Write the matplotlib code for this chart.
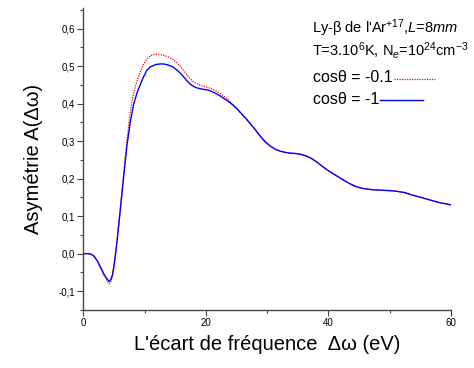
import matplotlib
matplotlib.use("Agg")
import matplotlib.pyplot as plt
from matplotlib.ticker import MultipleLocator, FuncFormatter

plt.rcParams['font.family'] = ['Liberation Sans', 'DejaVu Sans']
plt.rcParams['mathtext.fontset'] = 'custom'
plt.rcParams['mathtext.rm'] = 'Liberation Sans'
plt.rcParams['mathtext.it'] = 'Liberation Sans:italic'

# frequency offset (eV)
x = [0, 0.6, 1.2, 1.75, 2.3, 2.85, 3.39, 3.93, 4.2, 4.48, 4.75, 5.02, 5.3,
     5.57, 6.0, 6.55, 7.1, 7.64, 8.18, 8.73, 9.28, 9.82, 10.4, 10.9, 11.46,
     12.0, 12.55, 13.1, 13.65, 14.2, 14.7, 15.25, 15.8, 16.35, 16.9, 17.45,
     18.0, 18.55, 19.1, 19.65, 20.2, 20.75, 21.3, 21.85, 22.4, 22.95, 23.5,
     24.0, 24.5, 25.1, 25.6, 26.45, 27.3, 28.1, 28.9, 29.7, 30.6, 31.4, 32.2,
     33.0, 33.8, 34.7, 35.5, 36.3, 37.1, 37.9, 38.7, 39.5, 40.4, 41.2, 42.0,
     42.8, 43.6, 44.5, 45.3, 46.4, 47.5, 48.8, 50.2, 51.3, 52.4, 53.2, 54.0,
     55.1, 56.2, 57.3, 58.4, 59.2, 60.0]

# tail shared by both curves (x >= 26.45)
tail = [0.362, 0.346, 0.330, 0.313, 0.298, 0.286, 0.278, 0.273, 0.270, 0.268,
        0.267, 0.265, 0.261, 0.255, 0.247, 0.237, 0.227, 0.217, 0.209, 0.201,
        0.193, 0.186, 0.179, 0.175, 0.172, 0.170, 0.169, 0.168, 0.166, 0.163,
        0.159, 0.155, 0.150, 0.145, 0.140, 0.135, 0.133, 0.130]

# cos(theta) = -1
asym_m1 = [0, 0, -0.001, -0.007, -0.020, -0.038, -0.056, -0.069, -0.074,
           -0.069, -0.056, -0.029, 0.006, 0.046, 0.113, 0.202, 0.287, 0.350,
           0.397, 0.428, 0.451, 0.472, 0.490, 0.498, 0.502, 0.505, 0.506,
           0.506, 0.504, 0.501, 0.497, 0.490, 0.482, 0.472, 0.461, 0.452,
           0.446, 0.442, 0.440, 0.438, 0.437, 0.434, 0.430, 0.425, 0.420,
           0.414, 0.408, 0.402, 0.395, 0.386, 0.377] + tail

# cos(theta) = -0.1
asym_m01 = [0, 0, -0.001, -0.007, -0.021, -0.040, -0.059, -0.074, -0.080,
            -0.075, -0.060, -0.031, 0.005, 0.047, 0.117, 0.210, 0.300, 0.378,
            0.428, 0.460, 0.485, 0.505, 0.520, 0.527, 0.531, 0.532, 0.531,
            0.529, 0.526, 0.522, 0.517, 0.509, 0.500, 0.489, 0.477, 0.466,
            0.458, 0.453, 0.449, 0.446, 0.444, 0.441, 0.437, 0.432, 0.426,
            0.420, 0.413, 0.405, 0.397, 0.387, 0.377] + tail

fig = plt.figure(figsize=(4.74, 3.68), dpi=100)
ax = fig.add_axes([0.176, 0.158, 0.775, 0.82])

ax.plot(x, asym_m01, color='red', linestyle=(0, (1, 1)), linewidth=0.9)
ax.plot(x, asym_m1, color='blue', linestyle='-', linewidth=1.0,
        solid_joinstyle='round')

ax.set_xlim(0, 60)
ax.set_ylim(-0.15, 0.655)
ax.spines['top'].set_visible(False)
ax.spines['right'].set_visible(False)
for s in ['left', 'bottom']:
    ax.spines[s].set_color('#444444')
    ax.spines[s].set_linewidth(1.0)

ax.xaxis.set_major_locator(MultipleLocator(20))
ax.xaxis.set_minor_locator(MultipleLocator(10))
ax.yaxis.set_major_locator(MultipleLocator(0.1))
ax.yaxis.set_minor_locator(MultipleLocator(0.05))
ax.yaxis.set_major_formatter(FuncFormatter(lambda v, p: ('%.1f' % v).replace('.', ',')))
ax.tick_params(which='major', direction='out', length=4, width=0.8,
               labelsize=7, color='#444444', pad=2)
ax.tick_params(which='minor', direction='out', length=2.5, width=0.8,
               color='#444444')

ax.set_xlabel("L'écart de fréquence  Δω (eV)", fontsize=14.5, labelpad=5)
ax.set_ylabel("Asymétrie A(Δω)", fontsize=14.5, labelpad=11)

# legend block (top two lines a bit smaller so they stay inside the figure)
fig.text(312 / 474, 1 - 28 / 368, r"Ly-β de l'Ar$^{+17}$,$\mathit{L}$=$\mathit{8mm}$",
         fontsize=10.5, va='center', ha='left')
fig.text(312 / 474, 1 - 50 / 368, r"T=3.10$^6$K, N$_e$=10$^{24}$cm$^{-3}$",
         fontsize=10.5, va='center', ha='left')
fig.text(313 / 474, 1 - 78 / 368, "cosθ = -0.1", fontsize=11.5,
         va='center', ha='left')
fig.text(313 / 474, 1 - 100 / 368, "cosθ = -1", fontsize=11.5,
         va='center', ha='left')
fig.add_artist(plt.Line2D([394 / 474, 435 / 474], [1 - 79 / 368, 1 - 79 / 368],
                          color='red', linestyle=(0, (1, 1)), linewidth=0.9))
fig.add_artist(plt.Line2D([380 / 474, 423 / 474], [1 - 100 / 368, 1 - 100 / 368],
                          color='blue', linewidth=1.0))

plt.savefig('out.png', dpi=100)
